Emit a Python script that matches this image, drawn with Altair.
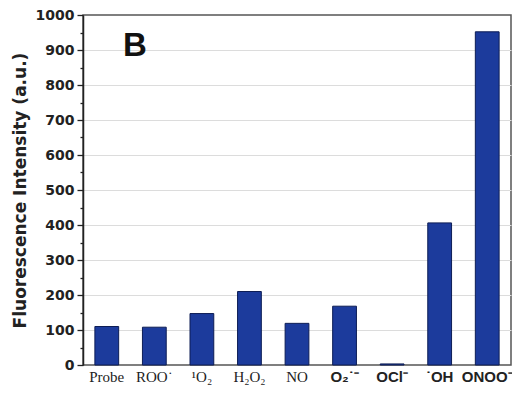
import altair as alt
import pandas as pd

categories = ["Probe", "ROO˙", "¹O₂", "H₂O₂", "NO", "O₂˙⁻", "OCl⁻", "˙OH", "ONOO⁻"]
values = [110, 108, 147, 210, 119, 168, 3, 406, 952]
sans_labels = ["O₂˙⁻", "OCl⁻", "˙OH", "ONOO⁻"]
y_ticks = list(range(0, 1001, 50))

df = pd.DataFrame({"cat": categories, "val": values})

sans_list = "[" + ",".join("'" + s + "'" for s in sans_labels) + "]"

bars = alt.Chart(df).mark_bar(color="#1c3b9c", stroke="#0d1d55", strokeWidth=1).encode(
    x=alt.X("cat:N", sort=categories,
            scale=alt.Scale(paddingInner=0.5, paddingOuter=0.25),
            axis=alt.Axis(title=None, labelAngle=0, ticks=False, domain=False,
                          labelFont={"expr": f"indexof({sans_list}, datum.value) >= 0 ? 'Liberation Sans' : 'Liberation Serif'"},
                          labelFontWeight={"expr": f"indexof({sans_list}, datum.value) >= 0 ? 'bold' : 'normal'"},
                          labelFontSize=15, labelColor="#222", labelPadding=4)),
    y=alt.Y("val:Q", scale=alt.Scale(domain=[0, 1000], nice=False),
            axis=alt.Axis(title="Fluorescence Intensity (a.u.)", values=y_ticks,
                          titleFont="DejaVu Sans", titleFontSize=17, titleFontWeight="bold",
                          titleColor="#222", titlePadding=6,
                          labelFont="DejaVu Sans", labelFontSize=14, labelFontWeight="bold",
                          labelColor="#222", labelPadding=3,
                          labelExpr="datum.value % 100 === 0 ? datum.value : ''",
                          tickSize={"expr": "datum.value % 100 === 0 ? 6 : 3"},
                          tickColor="#222", tickWidth=1.3,
                          domainColor="#222", domainWidth=1.5,
                          grid=True, gridColor="#dcdcdc",
                          gridOpacity={"expr": "datum.value % 100 === 0 && datum.value > 0 && datum.value < 1000 ? 1 : 0"})),
)

label = alt.Chart(pd.DataFrame({"t": ["B"]})).mark_text(
    font="Liberation Sans", fontSize=33, fontWeight="bold", color="#111",
    align="left", baseline="middle"
).encode(text="t:N", x=alt.value(40), y=alt.value(31))

chart = alt.layer(bars, label).properties(
    width=428, height=350,
    autosize=alt.AutoSizeParams(type="none"),
    padding={"left": 75, "top": 7, "right": 1, "bottom": 22},
).configure_view(stroke="#555", strokeWidth=1.5)

chart.save("out.html", embed_options={"renderer": "svg", "actions": False})
